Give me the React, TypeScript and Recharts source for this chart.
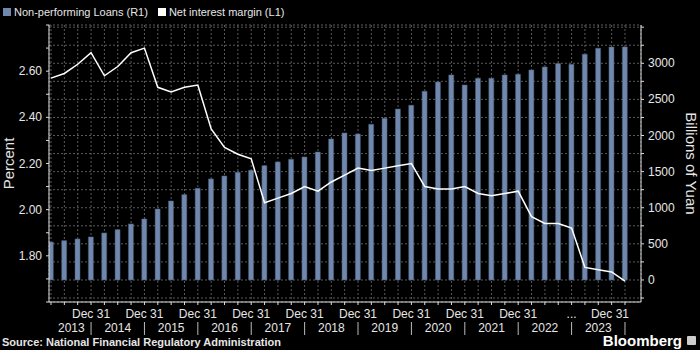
import React from 'react';
import { ComposedChart, Bar, Line, XAxis, YAxis, CartesianGrid } from 'recharts';

// quarterly, Q1 2013 .. Q4 2023
const years = [2013, 2014, 2015, 2016, 2017, 2018, 2019, 2020, 2021, 2022, 2023];
const quarters = ['Q1', 'Q2', 'Q3', 'Q4'];

// Non-performing loans, billions of yuan (R1)
const nplValues = [
  526, 545, 568, 596,
  651, 697, 776, 845,
  983, 1094, 1182, 1270,
  1399, 1440, 1491, 1519,
  1583, 1634, 1671, 1703,
  1773, 1953, 2036, 2022,
  2156, 2239, 2368, 2419,
  2613, 2742, 2839, 2700,
  2793, 2793, 2839, 2848,
  2908, 2950, 2996, 2987,
  3126, 3209, 3225, 3227,
];

// Net interest margin, percent (L1)
const nimValues = [
  2.57, 2.59, 2.63, 2.68,
  2.58, 2.62, 2.68, 2.70,
  2.53, 2.51, 2.53, 2.54,
  2.35, 2.27, 2.24, 2.22,
  2.03, 2.05, 2.07, 2.10,
  2.08, 2.12, 2.15, 2.18,
  2.17, 2.18, 2.19, 2.20,
  2.10, 2.09, 2.09, 2.10,
  2.07, 2.06, 2.07, 2.08,
  1.97, 1.94, 1.94, 1.92,
  1.75, 1.74, 1.73, 1.69,
];

const leftTicks = [1.6, 1.7, 1.8, 1.9, 2.0, 2.1, 2.2, 2.3, 2.4, 2.5, 2.6, 2.7, 2.8];
const leftLabels = [1.8, 2.0, 2.2, 2.4, 2.6];
const rightTicks = [-250, 0, 250, 500, 750, 1000, 1250, 1500, 1750, 2000, 2250, 2500, 2750, 3000, 3250, 3500];
const rightLabels = [0, 500, 1000, 1500, 2000, 2500, 3000];

const data = nplValues.map((npl, i) => ({
  idx: i,
  year: years[Math.floor(i / 4)],
  quarter: quarters[i % 4],
  npl,
  nim: nimValues[i],
}));

const FONT = '"Liberation Sans", Arial, sans-serif';
const BAR = '#7088ad';
const TXT = '#e6e6e6';

function XTick(props: any) {
  const { x, y, payload } = props;
  const i = payload.value as number;
  const d = data[i];
  if (!d) return null;
  const last = i === data.length - 1;
  const els: React.ReactNode[] = [];
  if (d.quarter === 'Q4') {
    const label = d.year === 2022 ? '...' : 'Dec 31';
    els.push(
      <text key="d" x={last ? x - 15 : x} y={y + 11} textAnchor="middle" fill={TXT} fontSize={12} fontFamily={FONT}>
        {label}
      </text>
    );
    els.push(<line key="s" x1={x} x2={x} y1={y + 15} y2={y + 28} stroke="#bbb" strokeWidth={1} />);
  }
  if (d.quarter === 'Q2') {
    els.push(
      <text key="y" x={i === 1 ? x + 7 : x} y={y + 25} textAnchor="middle" fill={TXT} fontSize={12} fontFamily={FONT}>
        {d.year}
      </text>
    );
  }
  return <g>{els}</g>;
}

function LeftTick(props: any) {
  const { x, y, payload } = props;
  const v = Math.round(payload.value * 10) / 10;
  if (!leftLabels.includes(v)) return null;
  return (
    <text x={x - 2} y={y + 4} textAnchor="end" fill={TXT} fontSize={12} fontFamily={FONT}>
      {v.toFixed(2)}
    </text>
  );
}

function RightTick(props: any) {
  const { x, y, payload } = props;
  if (!rightLabels.includes(payload.value)) return null;
  return (
    <text x={x + 2} y={y + 4} textAnchor="start" fill={TXT} fontSize={12} fontFamily={FONT}>
      {payload.value}
    </text>
  );
}

export default function App() {
  return (
    <div style={{ position: 'absolute', left: 0, top: 0, width: 700, height: 350, background: '#000', fontFamily: FONT, overflow: 'hidden' }}>
      <div style={{ position: 'absolute', left: 3, top: 6, fontSize: 11, color: TXT, display: 'flex', alignItems: 'center', whiteSpace: 'nowrap' }}>
        <span style={{ display: 'inline-block', width: 8, height: 8, background: BAR, marginRight: 3 }} />
        <span>Non-performing Loans (R1)</span>
        <span style={{ display: 'inline-block', width: 8, height: 8, background: '#fff', marginLeft: 10, marginRight: 3 }} />
        <span>Net interest margin (L1)</span>
      </div>
      <ComposedChart width={700} height={350} data={data} margin={{ top: 25, right: 0, left: 0, bottom: 0 }}>
        <CartesianGrid yAxisId="right" stroke="#5a5a5a" strokeDasharray="2 2" />
        <XAxis
          dataKey="idx"
          type="number"
          domain={[-0.15, 44.2]}
          ticks={data.map((d) => d.idx)}
          interval={0}
          tick={<XTick />}
          tickSize={3}
          stroke="#ddd"
          height={48}
          allowDataOverflow
        />
        <YAxis
          yAxisId="left"
          orientation="left"
          domain={[1.6, 2.8]}
          ticks={leftTicks}
          interval={0}
          tick={<LeftTick />}
          tickSize={3}
          width={49}
          stroke="#ddd"
          label={{ value: 'Percent', angle: -90, position: 'insideLeft', offset: 9, fill: TXT, fontSize: 15, style: { textAnchor: 'middle' } }}
        />
        <YAxis
          yAxisId="right"
          orientation="right"
          domain={[-305, 3530]}
          ticks={rightTicks}
          interval={0}
          tick={<RightTick />}
          tickSize={3}
          width={59}
          stroke="#ddd"
          label={{ value: 'Billions of Yuan', angle: 90, position: 'insideRight', offset: 9, fill: TXT, fontSize: 15, style: { textAnchor: 'middle' } }}
        />
        <Bar yAxisId="right" dataKey="npl" fill={BAR} stroke="#4a5a75" strokeWidth={0.5} barSize={5} isAnimationActive={false} />
        <Line yAxisId="left" dataKey="nim" type="linear" stroke="#fff" strokeWidth={1.5} dot={false} isAnimationActive={false} />
      </ComposedChart>
      <div style={{ position: 'absolute', left: 2, top: 336, fontSize: 11, fontWeight: 'bold', color: TXT, whiteSpace: 'nowrap' }}>
        Source: National Financial Regulatory Administration
      </div>
      <div style={{ position: 'absolute', right: 4, top: 332, fontSize: 15, fontWeight: 'bold', color: '#fff', display: 'flex', alignItems: 'center' }}>
        <span>Bloomberg</span>
        <span style={{ display: 'inline-block', width: 9, height: 9, background: '#ccc', marginLeft: 5, borderRadius: 1 }} />
      </div>
    </div>
  );
}
